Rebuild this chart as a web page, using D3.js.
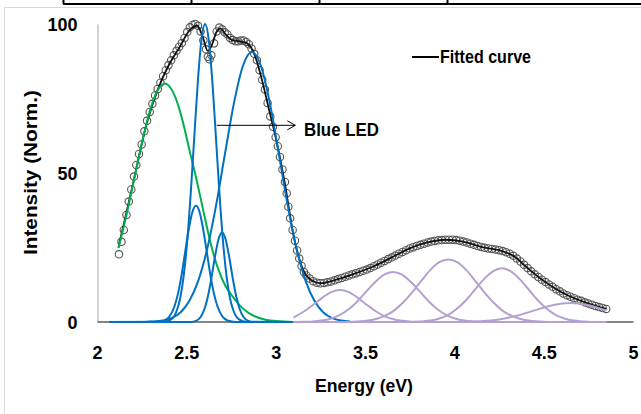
<!DOCTYPE html>
<html>
<head>
<meta charset="utf-8">
<script src="https://cdn.jsdelivr.net/npm/d3@7"></script>
<style>
  body { margin: 0; background: #fff; }
  svg { display: block; }
</style>
</head>
<body>
<div id="chart-area"></div>
<script>
// measured spectrum [energy eV, intensity]
const spectrum = [
  [2.123,22.7],[2.137,26.9],[2.15,30.9],[2.165,35.9],[2.178,40.4],[2.192,44.5],[2.207,48.8],[2.22,52.7],
  [2.235,56.4],[2.25,59.6],[2.265,64],[2.28,67.5],[2.295,70.5],[2.31,73.2],[2.325,76],[2.34,78.2],
  [2.355,80.3],[2.37,82.5],[2.385,84.5],[2.4,86.2],[2.415,87.8],[2.43,89.5],[2.445,91],[2.46,92.4],
  [2.475,93.6],[2.49,95.3],[2.505,97.3],[2.52,98.9],[2.535,99.7],[2.55,100],[2.565,99.4],[2.58,97.5],
  [2.595,94.5],[2.61,91.5],[2.62,89],[2.63,88.2],[2.64,89.5],[2.655,93.5],[2.67,97.5],[2.685,98.8],
  [2.7,98.2],[2.715,97.2],[2.73,96.5],[2.745,95.3],[2.76,94.6],[2.775,94.2],[2.79,94.2],[2.805,94.5],
  [2.82,94.5],[2.835,94],[2.85,93.2],[2.865,91.8],[2.88,90],[2.895,87.8],[2.91,84.5],[2.925,81.3],
  [2.94,78],[2.955,73.5],[2.97,69],[2.985,65.5],[3.0,62],[3.012,59],[3.024,55.4],[3.038,51.2],
  [3.052,47],[3.062,43.2],[3.071,38.7],[3.081,34.8],[3.095,30.9],[3.108,27.3],[3.12,24],[3.132,21.3],
  [3.145,18.8],[3.158,16.8],[3.172,15.6],[3.19,14.6],[3.21,13.7],[3.23,13.2],[3.25,13],[3.27,13.1],
  [3.29,13.3],[3.31,13.6],[3.33,14],[3.35,14.4],[3.37,14.8],[3.39,15.2],[3.41,15.6],[3.43,16],
  [3.45,16.4],[3.47,16.8],[3.49,17.2],[3.51,17.6],[3.53,18.1],[3.55,18.7],[3.57,19.3],[3.59,19.9],
  [3.61,20.5],[3.63,21.1],[3.65,21.7],[3.67,22.3],[3.69,22.9],[3.71,23.5],[3.73,24.1],[3.75,24.7],
  [3.77,25.1],[3.79,25.5],[3.81,25.9],[3.83,26.3],[3.85,26.7],[3.87,27],[3.89,27.2],[3.91,27.4],
  [3.93,27.5],[3.95,27.6],[3.97,27.6],[3.99,27.6],[4.01,27.5],[4.03,27.3],[4.05,27],[4.07,26.7],
  [4.09,26.3],[4.11,25.9],[4.13,25.5],[4.15,25.2],[4.17,24.9],[4.19,24.7],[4.21,24.5],[4.23,24.3],
  [4.25,24.1],[4.27,23.8],[4.29,23.4],[4.31,22.9],[4.33,22.2],[4.35,21.3],[4.37,20.3],[4.39,19.2],
  [4.41,18.1],[4.43,17],[4.45,16],[4.47,15.1],[4.49,14.2],[4.51,13.4],[4.53,12.6],[4.55,11.8],
  [4.57,11],[4.59,10.3],[4.61,9.6],[4.63,9],[4.65,8.5],[4.67,8],[4.69,7.5],[4.71,7.1],
  [4.73,6.6],[4.75,6.2],[4.77,5.8],[4.79,5.4],[4.81,5],[4.83,4.7],[4.85,4.4]
];

// fitted curve (sum of peaks)
const fitted = [
  [2.12,25],[2.2,46],[2.28,67],[2.34,78],[2.4,86],[2.46,92],[2.52,98],[2.56,99.5],[2.59,96],
  [2.62,91],[2.64,92.5],[2.67,97.5],[2.69,98.5],[2.72,96.5],[2.76,94.5],[2.8,94.2],[2.84,93.5],
  [2.88,90],[2.92,82],[2.96,72],[3.0,62],[3.05,47],[3.1,29],[3.15,18],[3.2,14],[3.25,13],
  [3.35,14.4],[3.45,16.4],[3.55,18.7],[3.65,21.7],[3.75,24.7],[3.85,26.7],[3.95,27.6],[4.05,27],
  [4.15,25.2],[4.25,24.1],[4.33,22.2],[4.41,18.1],[4.5,13.8],[4.6,10],[4.7,7.3],[4.85,4.4]
];

// fitted components
const greenPeak = [
  [2.12,24.8],[2.16,34.6],[2.2,45.7],[2.24,57],[2.28,67.3],[2.32,75.2],[2.36,79.4],[2.38,80],
  [2.4,79.4],[2.44,75.2],[2.48,67.3],[2.52,57],[2.56,47],[2.6,36],[2.64,25.5],[2.68,17.5],
  [2.72,12],[2.76,8.5],[2.8,5.5],[2.85,3],[2.9,1.5],[2.95,0.7],[3.0,0.3],[3.1,0]
];
const blue1 = [
  [2.07,0],[2.375,0.1],[2.415,0.9],[2.445,3.6],[2.465,7.8],[2.485,15.4],[2.505,27.2],[2.525,43.5],
  [2.545,62.6],[2.565,81.2],[2.585,94.9],[2.605,100],[2.625,94.9],[2.645,81.2],[2.665,62.6],
  [2.685,43.5],[2.705,27.2],[2.725,15.4],[2.745,7.8],[2.765,3.6],[2.795,0.9],[2.835,0.1],[3.1,0]
];
const blue2 = [
  [2.07,0],[2.334,0],[2.374,0.4],[2.404,1.7],[2.434,5.3],[2.454,9.7],[2.474,16],[2.494,23.7],
  [2.514,31.2],[2.534,36.9],[2.554,39],[2.574,36.9],[2.594,31.2],[2.614,23.7],[2.634,16],
  [2.654,9.7],[2.674,5.3],[2.704,1.7],[2.734,0.4],[2.774,0],[3.1,0]
];
const blue3 = [
  [2.07,0],[2.52,0],[2.55,0.3],[2.58,1.7],[2.6,4.1],[2.62,8.4],[2.64,14.6],[2.66,21.8],[2.68,27.7],
  [2.7,30],[2.72,27.7],[2.74,21.8],[2.76,14.6],[2.78,8.4],[2.8,4.1],[2.82,1.7],[2.85,0.3],[2.88,0],[3.1,0]
];
const blue4 = [
  [2.07,0],[2.267,0],[2.317,0.2],[2.367,0.5],[2.417,1.3],[2.467,3.2],[2.517,7.1],[2.567,13.9],
  [2.617,24.6],[2.667,39.3],[2.717,56.7],[2.767,73.6],[2.817,86],[2.867,90.6],[2.917,86],
  [2.967,73.6],[3.017,56.7],[3.067,39.3],[3.117,24.6],[3.167,13.9],[3.217,7.1],[3.267,3.2],
  [3.317,1.3],[3.367,0.5],[3.417,0.2]
];
const purple1 = [
  [3.1,1.5],[3.16,3.6],[3.21,5.8],[3.26,8.1],[3.31,10],[3.36,10.7],[3.41,10],[3.46,8.1],[3.51,5.8],
  [3.56,3.6],[3.61,1.9],[3.66,0.9],[3.71,0.4],[3.76,0.1],[3.85,0],[4.85,0]
];
const purple2 = [
  [3.1,0],[3.157,0.1],[3.207,0.2],[3.257,0.5],[3.307,1.1],[3.357,2.3],[3.407,4.2],[3.457,6.9],
  [3.507,10.2],[3.557,13.4],[3.607,15.9],[3.657,16.8],[3.707,15.9],[3.757,13.4],[3.807,10.2],
  [3.857,6.9],[3.907,4.2],[3.957,2.3],[4.007,1.1],[4.057,0.5],[4.107,0.2],[4.157,0],[4.85,0]
];
const purple3 = [
  [3.1,0],[3.416,0],[3.466,0.2],[3.516,0.5],[3.566,1.1],[3.616,2.2],[3.666,4],[3.716,6.7],
  [3.766,10.1],[3.816,13.9],[3.866,17.5],[3.916,20.1],[3.966,21],[4.016,20.1],[4.066,17.5],
  [4.116,13.9],[4.166,10.1],[4.216,6.7],[4.266,4],[4.316,2.2],[4.366,1.1],[4.416,0.5],
  [4.466,0.2],[4.516,0],[4.85,0]
];
const purple4 = [
  [3.1,0],[3.766,0],[3.816,0.2],[3.866,0.5],[3.916,1.2],[3.966,2.4],[4.016,4.5],[4.066,7.4],
  [4.116,10.9],[4.166,14.4],[4.216,17],[4.266,18],[4.316,17],[4.366,14.4],[4.416,10.9],
  [4.466,7.4],[4.516,4.5],[4.566,2.4],[4.616,1.2],[4.666,0.5],[4.716,0.2],[4.766,0],[4.85,0]
];
const purple5 = [
  [3.1,0],[3.95,0],[4.05,0.07],[4.15,0.28],[4.25,0.87],[4.35,2.1],[4.45,3.9],[4.55,5.65],
  [4.65,6.4],[4.75,5.65],[4.85,3.9]
];

const xTicks = [2, 2.5, 3, 3.5, 4, 4.5, 5];
const yTicks = [0, 50, 100];

const FONT = "'Liberation Sans', Arial, sans-serif";

let svg = d3.select("#chart-area").append("svg")
            .attr("width", 641)
            .attr("height", 414);

const x = d3.scaleLinear().domain([2, 5]).range([97, 633]);
const y = d3.scaleLinear().domain([0, 100]).range([322, 24]);

// chart area border + table lines above
svg.append("path")
   .attr("d", "M4.5,414V7.5H641")
   .attr("fill", "none")
   .attr("stroke", "#d9d9d9");
svg.append("line")
   .attr("x1", 63).attr("x2", 641).attr("y1", 4).attr("y2", 4)
   .attr("stroke", "#000").attr("stroke-width", 2);
[63.5, 191.5, 319.5, 447.5].forEach(function(px){
  svg.append("line")
     .attr("x1", px).attr("x2", px).attr("y1", 0).attr("y2", 4)
     .attr("stroke", "#000").attr("stroke-width", 2);
});

// axes
let yAxis = svg.append("g")
   .attr("transform", "translate(97.5,0)")
   .call(d3.axisLeft(y).tickValues(yTicks).tickSize(0).tickPadding(20).tickFormat(d => d));
yAxis.select(".domain").attr("stroke", "#a6a6a6").attr("stroke-width", 1);
yAxis.selectAll("text")
     .attr("font-family", FONT).attr("font-size", 18).attr("font-weight", "bold")
     .attr("dy", "0.35em").attr("fill", "#000");

let xAxis = svg.append("g")
   .attr("transform", "translate(0,321.5)")
   .call(d3.axisBottom(x).tickValues(xTicks).tickSize(0).tickPadding(25).tickFormat(d => d));
xAxis.select(".domain").attr("stroke", "#868686").attr("stroke-width", 2);
xAxis.selectAll("text")
     .attr("font-family", FONT).attr("font-size", 18).attr("font-weight", "bold")
     .attr("fill", "#000");

// axis titles
svg.append("text")
   .attr("x", 364).attr("y", 392)
   .attr("text-anchor", "middle")
   .attr("font-family", FONT).attr("font-size", 18.5).attr("font-weight", "bold")
   .attr("textLength", 98).attr("lengthAdjust", "spacingAndGlyphs")
   .text("Energy (eV)");
svg.append("text")
   .attr("transform", "translate(37,172.5) rotate(-90)")
   .attr("text-anchor", "middle")
   .attr("font-family", FONT).attr("font-size", 18).attr("font-weight", "bold")
   .attr("textLength", 165).attr("lengthAdjust", "spacingAndGlyphs")
   .text("Intensity (Norm.)");

const line = d3.line()
  .x(d => x(d[0]))
  .y(d => y(d[1]))
  .curve(d3.curveMonotoneX);

// measured points
svg.append("g")
   .selectAll("circle")
   .data(spectrum)
   .enter()
   .append("circle")
   .attr("cx", d => x(d[0]))
   .attr("cy", d => y(d[1]))
   .attr("r", 3.7)
   .attr("fill", "none")
   .attr("stroke", "#555")
   .attr("stroke-width", 1.1);

// fitted curve
svg.append("path")
   .attr("d", line(fitted))
   .attr("fill", "none").attr("stroke", "#111").attr("stroke-width", 1.8);

// components
const purples = [purple1, purple2, purple3, purple4, purple5];
const blues = [blue1, blue2, blue3, blue4];

svg.append("path")
   .attr("d", line(greenPeak))
   .attr("fill", "none").attr("stroke", "#00b050").attr("stroke-width", 2);

svg.append("g").selectAll("path")
   .data(blues).enter().append("path")
   .attr("d", d => line(d))
   .attr("fill", "none").attr("stroke", "#0070c0").attr("stroke-width", 2);

svg.append("g").selectAll("path")
   .data(purples).enter().append("path")
   .attr("d", d => line(d))
   .attr("fill", "none").attr("stroke", "#b3a2d0").attr("stroke-width", 2);

// Blue LED annotation
const ay = y(66);
svg.append("line")
   .attr("x1", x(2.67)).attr("x2", x(3.11)).attr("y1", ay).attr("y2", ay)
   .attr("stroke", "#000").attr("stroke-width", 1);
svg.append("path")
   .attr("d", `M${x(3.11) - 8},${ay - 4.5}L${x(3.11)},${ay}L${x(3.11) - 8},${ay + 4.5}`)
   .attr("fill", "none").attr("stroke", "#000").attr("stroke-width", 1);
svg.append("text")
   .attr("x", 304).attr("y", 136)
   .attr("font-family", FONT).attr("font-size", 17.5).attr("font-weight", "bold")
   .attr("textLength", 75).attr("lengthAdjust", "spacingAndGlyphs")
   .text("Blue LED");

// legend
svg.append("line")
   .attr("x1", 412).attr("x2", 439).attr("y1", 57).attr("y2", 57)
   .attr("stroke", "#000").attr("stroke-width", 2);
svg.append("text")
   .attr("x", 440).attr("y", 63)
   .attr("font-family", FONT).attr("font-size", 18).attr("font-weight", "bold")
   .attr("textLength", 91).attr("lengthAdjust", "spacingAndGlyphs")
   .text("Fitted curve");
</script>
</body>
</html>
